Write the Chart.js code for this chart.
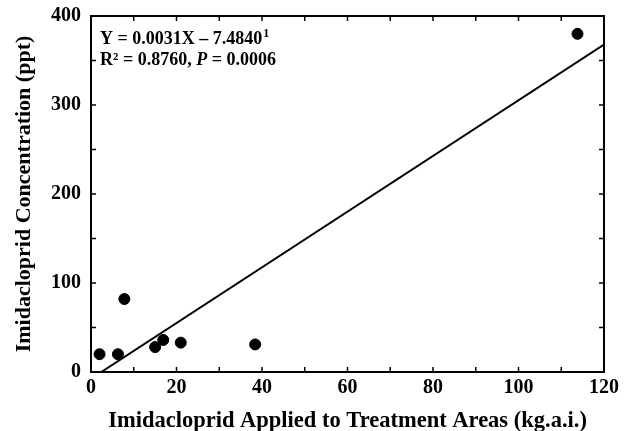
<!DOCTYPE html>
<html>
<head>
<meta charset="utf-8">
<script src="https://cdn.jsdelivr.net/npm/chart.js@4.4.1/dist/chart.umd.min.js"></script>
<style>
  html, body { margin: 0; padding: 0; background: #fff; }
  #wrap { width: 626px; height: 431px; }
</style>
</head>
<body>
<div id="wrap"><canvas id="scatterChart" width="626" height="431"></canvas></div>
<script>
// values
const appliedKg = [2.0, 6.3, 7.8, 15.0, 16.9, 21.0, 38.4, 113.8];
const concPpt   = [20, 20, 82, 28, 36, 33, 31, 380];
const fitX = [2.4, 120];
const fitY = [0, 368];
const xTicks = [0, 20, 40, 60, 80, 100, 120];
const yTicks = [0, 100, 200, 300, 400];

const serif = '"Liberation Serif", "Times New Roman", serif';

// frame, inward ticks on all four sides, equation text
const framePlugin = {
  id: 'frame',
  afterDraw(chart) {
    const { ctx, chartArea: a, scales } = chart;
    const x = scales.x, y = scales.y;
    ctx.save();
    ctx.strokeStyle = '#000';
    ctx.lineWidth = 2;
    ctx.strokeRect(a.left, a.top, a.right - a.left, a.bottom - a.top);
    ctx.lineWidth = 1.5;
    ctx.beginPath();
    x.ticks.forEach(t => {
      const px = x.getPixelForValue(t.value);
      ctx.moveTo(px, a.bottom); ctx.lineTo(px, a.bottom - 5);
      ctx.moveTo(px, a.top); ctx.lineTo(px, a.top + 5);
    });
    y.ticks.forEach(t => {
      const py = y.getPixelForValue(t.value);
      ctx.moveTo(a.left, py); ctx.lineTo(a.left + 5, py);
      ctx.moveTo(a.right, py); ctx.lineTo(a.right - 5, py);
    });
    ctx.stroke();

    // equation
    ctx.fillStyle = '#000';
    ctx.textBaseline = 'alphabetic';
    ctx.font = 'bold 18px ' + serif;
    let tx = a.left + 9, ty = a.top + 28;
    const line1 = 'Y = 0.0031X \u2013 7.4840';
    ctx.fillText(line1, tx, ty);
    let w = ctx.measureText(line1).width;
    ctx.font = 'bold 12px ' + serif;
    ctx.fillText('1', tx + w + 1, ty - 7);

    ty += 21;
    ctx.font = 'bold 18px ' + serif;
    const p1 = 'R\u00b2 = 0.8760, ';
    ctx.fillText(p1, tx, ty);
    w = ctx.measureText(p1).width;
    ctx.font = 'italic bold 18px ' + serif;
    ctx.fillText('P', tx + w, ty);
    w += ctx.measureText('P').width;
    ctx.font = 'bold 18px ' + serif;
    ctx.fillText(' = 0.0006', tx + w, ty);
    ctx.restore();
  }
};

const ctx = document.getElementById('scatterChart').getContext('2d');
const chart = new Chart(ctx, {
  type: 'scatter',
  data: {
    datasets: [{
      label: 'Samples',
      data: appliedKg.map((v, i) => ({ x: v, y: concPpt[i] })),
      backgroundColor: '#000',
      borderColor: '#000',
      pointRadius: 5.5,
      order: 1
    }, {
      label: 'Fit',
      type: 'line',
      data: fitX.map((v, i) => ({ x: v, y: fitY[i] })),
      borderColor: '#000',
      borderWidth: 2,
      pointRadius: 0,
      fill: false,
      order: 2
    }]
  },
  options: {
    responsive: false,
    animation: false,
    layout: { padding: { left: 0, top: 16, right: 22, bottom: 0 } },
    plugins: {
      legend: { display: false },
      tooltip: { enabled: false }
    },
    scales: {
      x: {
        type: 'linear',
        min: 0, max: 120,
        grid: { display: false, drawTicks: false },
        border: { display: false },
        ticks: {
          stepSize: 10,
          autoSkip: false,
          maxRotation: 0,
          padding: 4,
          color: '#000',
          font: { family: serif, size: 20, weight: 'bold' },
          callback: v => (v % 20 === 0 ? v : '')
        },
        title: {
          display: true,
          text: 'Imidacloprid Applied to Treatment Areas (kg.a.i.)',
          color: '#000',
          font: { family: serif, size: 22.5, weight: 'bold', lineHeight: 1 },
          padding: { top: 0, bottom: -1 }
        },
        afterFit(scale) {
          scale.height = 59;
          scale.paddingLeft = 0;
          scale.paddingRight = 0;
        }
      },
      y: {
        type: 'linear',
        min: 0, max: 400,
        grid: { display: false, drawTicks: false },
        border: { display: false },
        ticks: {
          stepSize: 50,
          autoSkip: false,
          padding: 10,
          color: '#000',
          font: { family: serif, size: 20, weight: 'bold' },
          callback: v => (v % 100 === 0 ? v : '')
        },
        title: {
          display: true,
          text: 'Imidacloprid Concentration (ppt)',
          color: '#000',
          font: { family: serif, size: 22, weight: 'bold' },
          padding: { top: 11, bottom: 0 }
        },
        afterFit(scale) {
          scale.width = 91;
          scale.paddingTop = 0;
          scale.paddingBottom = 0;
        }
      }
    }
  },
  plugins: [framePlugin]
});
</script>
</body>
</html>
